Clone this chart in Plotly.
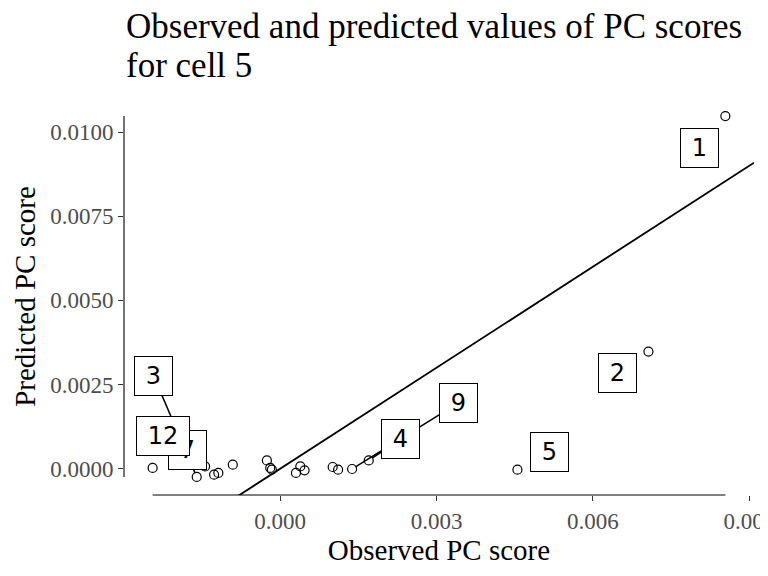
import plotly.graph_objects as go

# observed vs predicted PC scores (cell 5)
observed = [0.00854, 0.007064, -0.001602, 0.001698, 0.004551, -0.001442, 0.001379, -0.002448,
            -0.001269, -0.001187, -0.000910, -0.000256, -0.000192, -0.000160,
            0.000302, 0.000385, 0.000467, 0.001006, 0.00111]
predicted = [0.010474, 0.003478, -0.000246, 0.000246, -0.00003, 0.000068, -0.00001, 0.000021,
             -0.000178, -0.000127, 0.000119, 0.000246, 0.000021, -0.00003,
             -0.000127, 0.000068, -0.00005, 0.00005, -0.00003]
point_labels = ["1", "2", "3", "4", "5", "7", "9", "12",
                "", "", "", "", "", "", "", "", "", "", ""]

x_ticks = [0.0, 0.003, 0.006, 0.009]
y_ticks = [0.0, 0.0025, 0.005, 0.0075, 0.01]

# label placement (pixel offsets from the point, ggrepel-like) and whether the segment shows
label_style = {
    "3": (-43, -101, True),
    "9": (106, -66, True),
    "7": (-18, -16, False),
    "12": (10, -32, False),
    "4": (32, -21, True),
    "1": (-26, 32, False),
    "2": (-31, 21, False),
    "5": (32, -18, False),
}

# the page body adds an 8px margin, so the figure is 8px smaller than the window
W, H = 760, 568
ML, MR, MT, MB = 116, 14, 90, 81


def expand(vals, frac=0.05):
    lo, hi = min(vals), max(vals)
    pad = (hi - lo) * frac
    return [lo - pad, hi + pad]


x_range = expand(observed)
y_range = expand(predicted)

fig = go.Figure()

# identity line y = x across the panel
fig.add_trace(go.Scatter(
    x=x_range, y=x_range, mode="lines",
    line=dict(color="black", width=1.8),
    hoverinfo="skip", showlegend=False
))

fig.add_trace(go.Scatter(
    x=observed, y=predicted, mode="markers",
    marker=dict(symbol="circle-open", size=9, color="black", line=dict(width=1.2)),
    showlegend=False
))

annotations = []
for lab in ["3", "9", "7", "12", "4", "1", "2", "5"]:
    i = point_labels.index(lab)
    ax, ay, seg = label_style[lab]
    annotations.append(dict(
        x=observed[i], y=predicted[i], xref="x", yref="y",
        text=lab, showarrow=True, ax=ax, ay=ay,
        arrowhead=0, arrowwidth=1.6, standoff=4,
        arrowcolor="black" if seg else "rgba(0,0,0,0)",
        font=dict(family="DejaVu Sans", size=24, color="black"),
        bgcolor="white", bordercolor="black", borderwidth=1, borderpad=5,
        width=15 * len(lab) + 12, height=28,
    ))

ph = H - MT - MB


def paper_y(py):
    return (H - MB - py) / ph


title_font = dict(family="Liberation Serif", size=35, color="black")
annotations.append(dict(text="Observed and predicted values of PC scores", xref="paper", yref="paper",
                        x=0, y=paper_y(19), xanchor="left", yanchor="middle",
                        showarrow=False, font=title_font))
annotations.append(dict(text="for cell 5", xref="paper", yref="paper",
                        x=0, y=paper_y(57), xanchor="left", yanchor="middle",
                        showarrow=False, font=title_font))

fig.update_layout(annotations=annotations)

# range-frame axis lines
fig.add_shape(type="line", xref="x", yref="paper", x0=min(observed), x1=max(observed), y0=0, y1=0,
              line=dict(color="black", width=1.1))
fig.add_shape(type="line", xref="paper", yref="y", x0=0, x1=0, y0=min(predicted), y1=max(predicted),
              line=dict(color="black", width=1.1))

tick_font = dict(family="Liberation Serif", size=23, color="#4d4d4d")
axis_title_font = dict(family="Liberation Serif", size=29, color="black")

fig.update_xaxes(
    range=x_range, showgrid=False, zeroline=False, showline=False, automargin=False,
    ticks="outside", ticklen=5, tickwidth=1.1, tickcolor="#333333",
    tickvals=x_ticks, ticktext=[f"{v:.3f}" for v in x_ticks],
    tickfont=tick_font, ticklabeloverflow="allow",
    title=dict(text="Observed PC score", font=axis_title_font, standoff=6),
)
fig.update_yaxes(
    range=y_range, showgrid=False, zeroline=False, showline=False, automargin=False,
    ticks="outside", ticklen=5, tickwidth=1.1, tickcolor="#333333",
    tickvals=y_ticks, ticktext=[f"{v:.4f}" for v in y_ticks],
    tickfont=tick_font,
    title=dict(text="Predicted PC score", font=axis_title_font, standoff=6),
)

fig.update_layout(
    width=W, height=H,
    margin=dict(l=ML, r=MR, t=MT, b=MB, autoexpand=False),
    plot_bgcolor="white", paper_bgcolor="white",
    showlegend=False,
)

fig.write_html("out.html")
